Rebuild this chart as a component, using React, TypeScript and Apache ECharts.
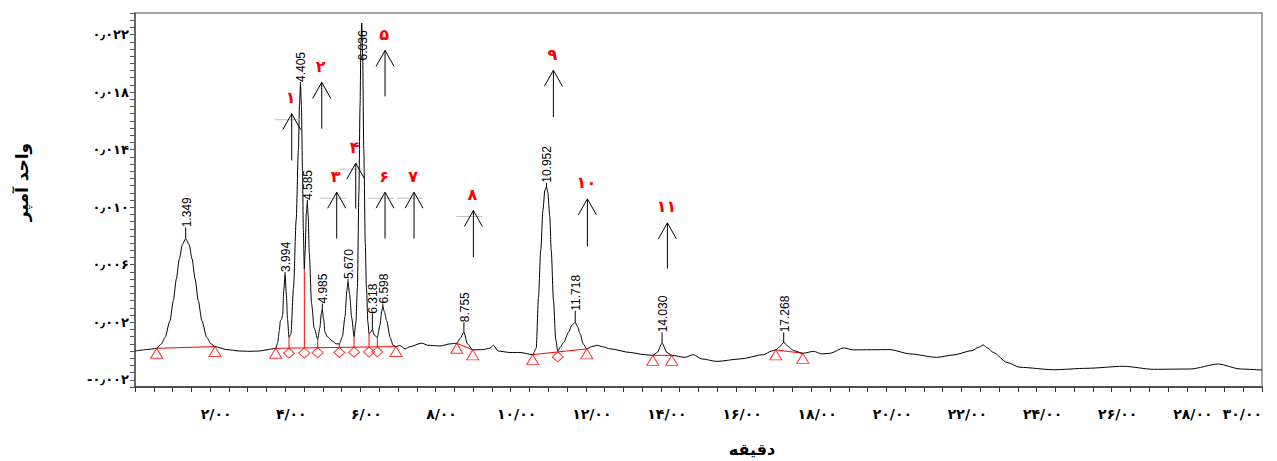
import React, { useEffect, useRef } from 'react';
import * as echarts from 'echarts';

// ---------- data ----------
const FA_DIGITS = '۰۱۲۳۴۵۶۷۸۹';
const toFa = (s: string) => s.replace(/[0-9]/g, (d) => FA_DIGITS[+d]);

// chromatogram signal [minutes, value]
const signal: [number, number][] = [
  [0.0, 0.0], [0.31, 0.0001], [0.578, 0.00019], [0.7, 0.0005], [0.8, 0.00095], [0.93, 0.0021],
  [1.02, 0.0035], [1.1, 0.005], [1.18, 0.0064], [1.26, 0.0074], [1.349, 0.0078], [1.44, 0.0074],
  [1.52, 0.0064], [1.6, 0.005], [1.685, 0.0035], [1.78, 0.0021], [1.91, 0.00095], [2.02, 0.0005],
  [2.13, 0.00031], [2.44, 0.0001], [2.8, 0.0], [3.06, -0.00002], [3.3, 0.0], [3.51, 0.00008],
  [3.64, 0.00015], [3.746, 0.00019], [3.8, 0.0006], [3.84, 0.0014], [3.87, 0.0021], [3.9, 0.0022],
  [3.93, 0.0025], [3.96, 0.0042], [3.994, 0.0053], [4.03, 0.0039], [4.06, 0.0022], [4.1, 0.00095],
  [4.15, 0.0012], [4.22, 0.0044], [4.29, 0.0091], [4.35, 0.014], [4.38, 0.0172], [4.405, 0.0186],
  [4.43, 0.017], [4.46, 0.0125], [4.48, 0.0085], [4.507, 0.0057], [4.53, 0.007], [4.56, 0.0095],
  [4.587, 0.0103], [4.61, 0.0094], [4.64, 0.0068], [4.7, 0.0033], [4.77, 0.0016], [4.864, 0.00084],
  [4.92, 0.0016], [4.96, 0.0026], [4.985, 0.0029], [5.02, 0.0022], [5.06, 0.0013], [5.12, 0.001],
  [5.25, 0.0007], [5.35, 0.0005], [5.439, 0.0005], [5.52, 0.001], [5.59, 0.0024], [5.64, 0.0042],
  [5.67, 0.0048], [5.71, 0.004], [5.77, 0.0023], [5.831, 0.001], [5.88, 0.002], [5.92, 0.0044],
  [5.96, 0.011], [5.99, 0.017], [6.015, 0.0215], [6.036, 0.0228], [6.06, 0.0205], [6.09, 0.014],
  [6.13, 0.0075], [6.16, 0.0044], [6.2, 0.002], [6.23, 0.0012], [6.27, 0.0013], [6.318, 0.0015],
  [6.37, 0.0011], [6.451, 0.00095], [6.52, 0.0018], [6.57, 0.0028], [6.598, 0.0031], [6.64, 0.0027],
  [6.7, 0.0021], [6.79, 0.00095], [6.87, 0.0004], [6.949, 0.00031], [7.05, 0.00038], [7.19, 0.00015],
  [7.32, 0.0003], [7.63, 0.00055], [7.8, 0.0004], [8.12, 0.00035], [8.39, 0.0005], [8.565, 0.00054],
  [8.66, 0.0009], [8.755, 0.0013], [8.85, 0.0005], [8.99, 0.00008], [9.27, 0.0001], [9.45, 0.0002],
  [9.54, 0.0004], [9.67, 0.0], [9.98, -0.0001], [10.25, -0.0001], [10.588, -0.00025], [10.68, 0.0002],
  [10.74, 0.0037], [10.8, 0.007], [10.86, 0.0098], [10.91, 0.0112], [10.952, 0.0114], [10.99, 0.011],
  [11.04, 0.0094], [11.08, 0.007], [11.14, 0.0035], [11.2, 0.0008], [11.254, 0.0], [11.33, 0.0003],
  [11.41, 0.0006], [11.54, 0.0013], [11.63, 0.0018], [11.718, 0.002], [11.78, 0.0017], [11.85, 0.0012],
  [11.93, 0.0005], [12.026, 0.00015], [12.15, 0.0003], [12.29, 0.0004], [12.45, 0.0003], [12.65, 0.00015],
  [13.18, -0.0001], [13.55, -0.00025], [13.783, -0.0003], [13.9, -0.0001], [14.03, 0.00054],
  [14.16, -0.0001], [14.289, -0.0003], [14.64, -0.00044], [14.86, -0.00025], [15.09, -0.00055],
  [15.49, -0.00072], [16.11, -0.00055], [16.73, -0.00025], [16.95, 0.0], [17.058, 0.00008],
  [17.16, 0.0003], [17.268, 0.0006], [17.4, 0.0003], [17.53, 0.00003], [17.777, -0.00016],
  [18.06, -0.00002], [18.28, -0.0002], [18.5, -0.00016], [18.86, 0.00022], [19.12, 0.00008],
  [20.1, 0.0001], [20.63, -0.0002], [21.34, -0.00044], [21.79, -0.00027], [22.28, 0.00003],
  [22.45, 0.00025], [22.58, 0.00042], [22.7, 0.0002], [22.85, -0.0001], [23.21, -0.00079],
  [23.56, -0.00113], [24.45, -0.0013], [25.34, -0.0012], [26.31, -0.00106], [27.11, -0.00127],
  [28.09, -0.00125], [28.84, -0.0009], [29.42, -0.00125], [30.0, -0.00132],
];

// retention-time labels: [minutes, apex value, label base value, text]
const peakLabels: [number, number, number, string][] = [
  [1.349, 0.0078, 0.0086, '1.349'],
  [3.994, 0.0053, 0.0055, '3.994'],
  [4.405, 0.0186, 0.0187, '4.405'],
  [4.587, 0.0103, 0.0105, '4.585'],
  [4.985, 0.0029, 0.0033, '4.985'],
  [5.67, 0.0048, 0.005, '5.670'],
  [6.036, 0.0228, 0.0202, '6.036'],
  [6.318, 0.0015, 0.0026, '6.318'],
  [6.598, 0.0031, 0.0033, '6.598'],
  [8.755, 0.0013, 0.002, '8.755'],
  [10.952, 0.0114, 0.0117, '10.952'],
  [11.718, 0.002, 0.0028, '11.718'],
  [14.03, 0.00054, 0.0013, '14.030'],
  [17.268, 0.0006, 0.0013, '17.268'],
];

// numbered arrows: [minutes, tip value, tail value, label, has grey bar]
const arrows: [number, number, number, string, number][] = [
  [4.172, 0.0165, 0.01325, '۱', 1],
  [4.971, 0.01868, 0.01546, '۲', 0],
  [5.37, 0.01104, 0.00782, '۳', 1],
  [5.876, 0.01306, 0.00991, '۴', 1],
  [6.656, 0.0209, 0.0177, '۵', 0],
  [6.656, 0.01104, 0.00782, '۶', 1],
  [7.428, 0.01104, 0.00782, '۷', 1],
  [9.007, 0.00977, 0.00652, '۸', 1],
  [11.137, 0.01952, 0.01626, '۹', 0],
  [12.042, 0.01058, 0.00727, '۱۰', 0],
  [14.172, 0.00891, 0.00573, '۱۱', 0],
];

// integration start/end markers (on the signal)
const triangles: [number, number][] = [
  [0.578, 0.00019], [2.13, 0.00031], [3.746, 0.00019], [6.949, 0.00031],
  [8.565, 0.00054], [8.99, 0.00008], [10.588, -0.00025], [12.026, 0.00015],
  [13.783, -0.0003], [14.289, -0.0003], [17.058, 0.00008], [17.777, -0.00016],
];

// drop-line markers on the baseline
const diamonds: [number, number][] = [
  [4.1, 0.0002], [4.507, 0.00021], [4.864, 0.00023], [5.439, 0.00025],
  [5.831, 0.00027], [6.23, 0.00028], [6.451, 0.00029], [11.254, -0.00006],
];

// baselines [t1, v1, t2, v2]
const baselines: [number, number, number, number][] = [
  [0.578, 0.00019, 2.13, 0.00031],
  [3.746, 0.00019, 6.949, 0.00031],
  [8.565, 0.00054, 8.99, 0.00008],
  [10.588, -0.00025, 12.026, 0.00015],
  [13.783, -0.0003, 14.289, -0.0003],
  [17.058, 0.00008, 17.777, -0.00016],
];

// vertical drop lines [t, baseline value, signal value]
const dropLines: [number, number, number][] = [
  [4.1, 0.0002, 0.00095], [4.507, 0.00021, 0.0057], [4.864, 0.00023, 0.00084],
  [5.439, 0.00025, 0.0005], [5.831, 0.00027, 0.001], [6.23, 0.00028, 0.0012],
  [6.451, 0.00029, 0.00095], [11.254, -0.00006, 0.0],
];

const xLabelValues = [2, 4, 6, 8, 10, 12, 14, 16, 18, 20, 22, 24, 26, 28, 30];
const yLabelValues = [-0.002, 0.002, 0.006, 0.01, 0.014, 0.018, 0.022];

const FA_FONT = '"DejaVu Sans", "Noto Sans", sans-serif';
const NUM_FONT = '"Liberation Sans Narrow", "Liberation Sans", Arial, sans-serif';
const RED = '#ff0000';

export default function App() {
  const ref = useRef<HTMLDivElement>(null);
  useEffect(() => {
    if (!ref.current) return;
    const chart = echarts.init(ref.current, undefined, { renderer: 'svg' });

    const option: any = {
      animation: false,
      backgroundColor: '#fff',
      grid: {
        left: 135, right: 15, top: 13, bottom: 74, show: true, borderColor: '#888', borderWidth: 1.5,
        containLabel: false, outerBoundsMode: 'none',
      },
      xAxis: {
        type: 'value', min: 0, max: 30, interval: 0.5,
        axisLine: { onZero: false, lineStyle: { color: '#333', width: 1.5 } },
        axisTick: { length: 5, lineStyle: { color: '#333' } },
        splitLine: { show: false },
        axisLabel: {
          margin: 20, fontFamily: FA_FONT, fontWeight: 'bold', fontSize: 14, color: '#000',
          padding: [0, 0, 0, 12], alignMaxLabel: 'right',
          formatter: (v: number) => {
            const hit = xLabelValues.find((x) => Math.abs(x - v) < 1e-6);
            return hit !== undefined ? toFa(String(hit)) + '/' + toFa('00') : '';
          },
        },
      },
      yAxis: {
        type: 'value', min: -0.0025, max: 0.0235, interval: 0.0005,
        axisLine: { show: true, onZero: false, lineStyle: { color: '#555', width: 1.5 } },
        axisTick: { show: true, length: 5, lineStyle: { color: '#555' } },
        splitLine: { show: false },
        axisLabel: {
          margin: 6, fontFamily: FA_FONT, fontWeight: 'bold', fontSize: 13, color: '#000',
          formatter: (v: number) => {
            const hit = yLabelValues.find((y) => Math.abs(y - v) < 1e-7);
            if (hit === undefined) return '';
            const s = Math.abs(hit).toFixed(3).replace('.', '٫');
            return (hit < 0 ? '-' : '') + toFa(s);
          },
        },
      },
      graphic: [
        {
          type: 'text', x: 22, y: 182, rotation: Math.PI / 2,
          style: { text: 'واحد آمپر', font: `bold 17px ${FA_FONT}`, fill: '#000', align: 'center', verticalAlign: 'middle' },
        },
        {
          type: 'text', x: 752, y: 449,
          style: { text: 'دقیقه', font: `bold 16px ${FA_FONT}`, fill: '#000', align: 'center', verticalAlign: 'middle' },
        },
      ],
      series: [
        {
          type: 'custom', name: 'integration', z: 2, clip: false,
          data: [
            ...baselines.map((b) => [b[0], b[1], b[2], b[3]]),
            ...dropLines.map((d) => [d[0], d[1], d[0], d[2]]),
          ],
          renderItem: (params: any, api: any) => {
            const p1 = api.coord([api.value(0), api.value(1)]);
            const p2 = api.coord([api.value(2), api.value(3)]);
            return {
              type: 'line',
              shape: { x1: p1[0], y1: p1[1], x2: p2[0], y2: p2[1] },
              style: { stroke: RED, lineWidth: 1 },
            };
          },
        },
        {
          type: 'line', name: 'signal', z: 3, data: signal, showSymbol: false, symbol: 'none',
          smooth: 0.25, smoothMonotone: 'x',
          lineStyle: { color: '#000', width: 1 },
        },
        {
          type: 'scatter', name: 'start/end', z: 4, data: triangles, symbol: 'triangle',
          symbolSize: [12, 10], symbolOffset: [0, 5],
          itemStyle: { color: 'rgba(0,0,0,0)', borderColor: RED, borderWidth: 1 },
        },
        {
          type: 'scatter', name: 'drop', z: 4, data: diamonds, symbol: 'diamond',
          symbolSize: [11, 10], symbolOffset: [0, 5],
          itemStyle: { color: 'rgba(0,0,0,0)', borderColor: RED, borderWidth: 1 },
        },
        {
          type: 'custom', name: 'peakLabels', z: 5, clip: false,
          data: peakLabels.map((p) => [p[0], p[1], p[2]]),
          renderItem: (params: any, api: any) => {
            const p = peakLabels[params.dataIndex];
            const apex = api.coord([api.value(0), api.value(1)]);
            const base = api.coord([api.value(0), api.value(2)]);
            const children: any[] = [];
            if (base[1] < apex[1] - 1) {
              children.push({
                type: 'line', shape: { x1: apex[0], y1: apex[1], x2: apex[0], y2: base[1] },
                style: { stroke: '#000', lineWidth: 1 },
              });
            }
            children.push({
              type: 'text', x: apex[0] + 1, y: base[1], rotation: Math.PI / 2,
              style: { text: p[3], font: `12px ${NUM_FONT}`, fill: '#000', align: 'left', verticalAlign: 'middle' },
            });
            return { type: 'group', children };
          },
        },
        {
          type: 'custom', name: 'arrows', z: 5, clip: false,
          data: arrows.map((a) => [a[0], a[1], a[2]]),
          renderItem: (params: any, api: any) => {
            const a = arrows[params.dataIndex];
            const tip = api.coord([api.value(0), api.value(1)]);
            const tail = api.coord([api.value(0), api.value(2)]);
            const children: any[] = [];
            if (a[4]) {
              children.push({
                type: 'line', shape: { x1: tip[0] - 17, y1: tip[1] + 6, x2: tip[0] + 9, y2: tip[1] + 6 },
                style: { stroke: '#c0c0c0', lineWidth: 1 },
              });
            }
            children.push(
              { type: 'line', shape: { x1: tip[0], y1: tip[1], x2: tail[0], y2: tail[1] }, style: { stroke: '#000', lineWidth: 1 } },
              {
                type: 'polyline',
                shape: { points: [[tip[0] - 9, tip[1] + 16], [tip[0], tip[1]], [tip[0] + 9, tip[1] + 16]] },
                style: { stroke: '#000', fill: 'none', lineWidth: 1 },
              },
              {
                type: 'text', x: tip[0] - 1, y: tip[1] - 16,
                style: { text: a[3], font: `bold 16px ${FA_FONT}`, fill: RED, align: 'center', verticalAlign: 'middle' },
              },
            );
            return { type: 'group', children };
          },
        },
      ],
    };
    chart.setOption(option);
    return () => chart.dispose();
  }, []);
  return <div ref={ref} style={{ position: 'absolute', left: 0, top: 0, width: 1277, height: 461 }} />;
}
